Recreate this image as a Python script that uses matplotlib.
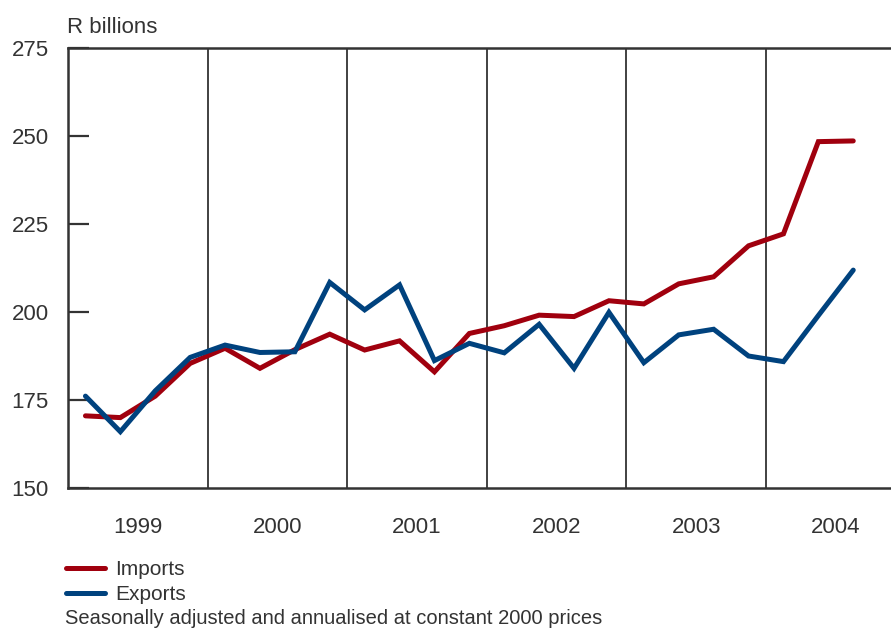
import matplotlib
matplotlib.use("Agg")
import matplotlib.pyplot as plt
import numpy as np

years = ["1999", "2000", "2001", "2002", "2003", "2004"]
imports = [170.5, 170.0, 176.1, 185.4, 189.7, 184.0, 189.3, 193.7, 189.2, 191.8, 183.0,
           193.9, 196.1, 199.1, 198.7, 203.2, 202.3, 208.0, 210.0, 218.8, 222.2, 248.4, 248.6]
exports = [176.1, 166.0, 177.6, 187.1, 190.6, 188.5, 188.7, 208.4, 200.6, 207.7, 186.2,
           191.1, 188.4, 196.5, 184.0, 199.9, 185.6, 193.5, 195.1, 187.5, 185.9, 199.0, 211.9]
yticks = [150, 175, 200, 225, 250, 275]

RED = "#A0000E"
BLUE = "#00427E"
TXT = "#333333"
FONT = "Liberation Sans"
plt.rcParams["font.family"] = [FONT, "DejaVu Sans"]

fig = plt.figure(figsize=(8.91, 6.28), dpi=100)
ax = fig.add_axes([68 / 891, 140 / 628, 823 / 891, 440 / 628])

q = np.arange(len(imports)) + 0.5
ax.plot(q, imports, color=RED, lw=3.6, solid_capstyle="round", solid_joinstyle="miter", label="Imports", zorder=3)
ax.plot(q, exports, color=BLUE, lw=3.6, solid_capstyle="round", solid_joinstyle="miter", label="Exports", zorder=3)

for k in range(1, len(years)):
    ax.axvline(4 * k, color="#333333", lw=1.3, zorder=1)

ax.set_xlim(0, 823 / 34.9)
ax.set_ylim(150, 275)
ax.set_yticks(yticks)
ax.set_yticklabels([str(v) for v in yticks])
ax.set_xticks([4 * k + 2 for k in range(len(years))])
ax.set_xticklabels(years)

ax.tick_params(axis="y", direction="in", length=15, width=1.6, color="#333333",
               pad=14, labelsize=16, labelcolor=TXT)
ax.tick_params(axis="x", length=0, pad=21, labelsize=16, labelcolor=TXT)

for s in ["left", "bottom", "top"]:
    ax.spines[s].set_linewidth(1.8)
    ax.spines[s].set_color("#333333")
ax.spines["right"].set_visible(False)

fig.text(67 / 891, 1 - 33 / 628, "R billions", fontsize=16, color=TXT, ha="left", va="baseline")

leg = ax.legend(loc="upper left", bbox_to_anchor=(66 / 891, 1 - 560 / 628),
                bbox_transform=fig.transFigure, frameon=False, fontsize=15,
                handlelength=1.85, handletextpad=0.5, labelspacing=0.28, borderpad=0,
                borderaxespad=0)
for t in leg.get_texts():
    t.set_color(TXT)

fig.text(65 / 891, 1 - 624 / 628, "Seasonally adjusted and annualised at constant 2000 prices",
         fontsize=14.5, color=TXT, ha="left", va="baseline")

fig.savefig("out.png", dpi=100)
